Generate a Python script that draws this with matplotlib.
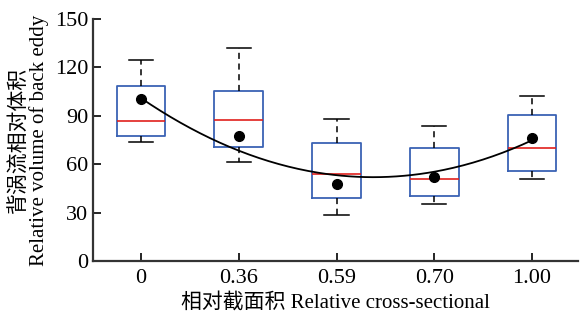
import numpy as np
import matplotlib
matplotlib.use('Agg')
import matplotlib.pyplot as plt

plt.rcParams['font.family'] = ['Liberation Serif', 'Noto Sans CJK SC']

# 数据
categories = ['0', '0.36', '0.59', '0.70', '1.00']
q1 = [77.5, 70.9, 39.1, 40.1, 56.0]
q3 = [108.5, 105.2, 73.4, 70.3, 90.3]
medians = [86.8, 87.2, 54.1, 51.0, 69.9]
whislo = [73.8, 61.4, 28.5, 35.3, 51.0]
whishi = [124.6, 132.2, 88.0, 83.7, 102.3]
means = [100.4, 77.7, 47.5, 52.3, 76.3]
curve_vals = [100.0, 70.0, 54.0, 52.7, 76.0]  # 拟合曲线在各位置的读数

pos = np.arange(1, len(categories) + 1)
stats = [dict(q1=q1[i], q3=q3[i], med=medians[i], whislo=whislo[i], whishi=whishi[i])
         for i in range(len(categories))]

fig = plt.figure(figsize=(5.82, 3.2), dpi=100)
ax = fig.add_axes([0.160, 0.184, 0.833, 0.757])

ax.bxp(stats, positions=pos, widths=0.5, showfliers=False,
       boxprops=dict(color='#3a62b4', linewidth=1.3),
       medianprops=dict(color='#e0201c', linewidth=1.2),
       whiskerprops=dict(color='black', linewidth=1.1, linestyle=(0, (4, 3))),
       capprops=dict(color='black', linewidth=1.1), capwidths=0.25)

# 二次拟合曲线
coef = np.polyfit(pos, curve_vals, 2)
xs = np.linspace(1, 5, 200)
ax.plot(xs, np.polyval(coef, xs), color='black', linewidth=1.3, zorder=3)
ax.plot(pos, means, 'o', color='black', markersize=7, zorder=4)

ax.set_xlim(0.51, 5.47)
ax.set_ylim(0, 150)
ax.set_yticks([0, 30, 60, 90, 120, 150])
ax.set_xticks(pos)
ax.set_xticklabels(categories)
ax.tick_params(direction='in', length=6, width=1.2, labelsize=16, colors='black')
ax.tick_params(axis='x', pad=6)
for s in ['top', 'right']:
    ax.spines[s].set_visible(False)
for s in ['left', 'bottom']:
    ax.spines[s].set_linewidth(1.6)
    ax.spines[s].set_color('#333333')

ax.set_ylabel('背涡流相对体积\nRelative volume of back eddy', fontsize=15, linespacing=1.0)
ax.set_xlabel('相对截面积 Relative cross-sectional', fontsize=15, labelpad=3)

fig.savefig('out.png', dpi=100)
